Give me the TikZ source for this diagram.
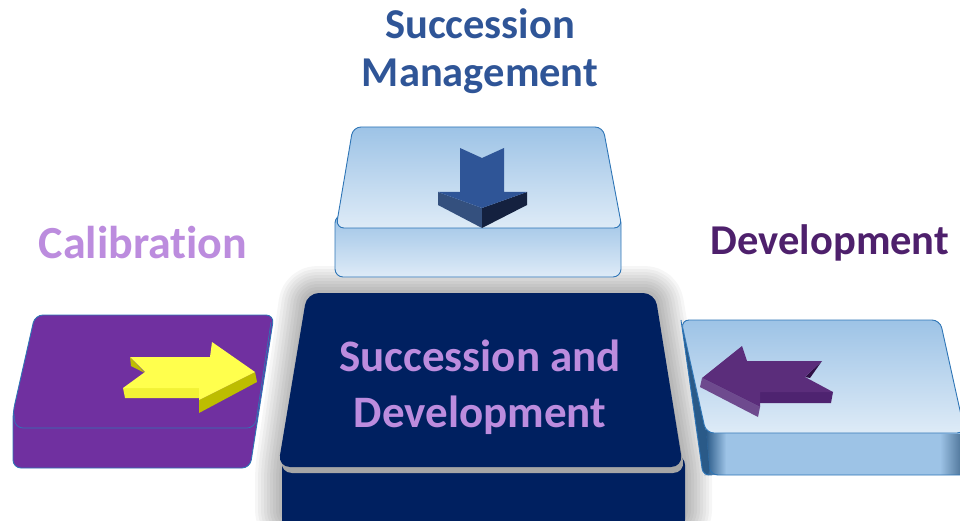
\documentclass[tikz,border=0pt]{standalone}
\usepackage{fontspec}
\setmainfont{Carlito}[Ligatures=NoCommon]
\definecolor{navy}{HTML}{002060}
\definecolor{pbox}{HTML}{7030A0}
\definecolor{lbA}{HTML}{9DC3E6}
\definecolor{lbB}{HTML}{DEEBF7}
\definecolor{lbEdge}{HTML}{2E75B6}
\definecolor{lbDark}{HTML}{2A5A88}
\definecolor{lav}{RGB}{188,140,222}
\definecolor{devtxt}{RGB}{78,32,108}
\definecolor{toptxt}{RGB}{47,85,151}
\definecolor{yelA}{HTML}{FFFF4D}
\definecolor{yelB}{HTML}{F2F236}
\definecolor{yelC}{HTML}{BDBD00}
\definecolor{purA}{HTML}{5B2D7B}
\definecolor{purB}{HTML}{4E2370}
\definecolor{purC}{HTML}{6E4A8E}
\definecolor{purD}{HTML}{2E1045}
\definecolor{bluA}{HTML}{2F5597}
\definecolor{bluB}{HTML}{34507E}
\definecolor{bluC}{HTML}{14213F}
\tikzset{
  lbl/.style={font=\bfseries\fontsize{44}{55}\selectfont, align=center, inner sep=0pt},
  edgeline/.style={draw=lbEdge, line width=0.9pt},
}
\begin{document}
\begin{tikzpicture}[x=1pt,y=-1pt]
\useasboundingbox (0,0) rectangle (960,521);
\begin{scope}
\clip (0,0) rectangle (960,521);
% glow around the central block
\foreach \w in {54,48,42,36,30,24,18,12,6}
  \draw[line width=\w pt, black, opacity=0.035, line join=round, rounded corners=10pt]
    (307,293) -- (655,293) -- (685,470) -- (685,521) -- (282,521) -- (282,470) -- cycle;
% central block
\fill[navy, rounded corners=10pt] (282,455) rectangle (685,530);
\fill[black!35, rounded corners=12pt] (307,298) -- (655,298) -- (685,473) -- (280,473) -- cycle;
\fill[navy, rounded corners=12pt] (307,293) -- (655,293) -- (683,467) -- (278,467) -- cycle;
\node[lbl, text=lav, font=\bfseries\fontsize{45}{56}\selectfont] (centre) at (480,387) {Succession and\\Development};

% top block
\shade[top color=lbA, bottom color=lbB, rounded corners=8pt, edgeline] (335,215) rectangle (621,277);
\shade[top color=lbA, bottom color=lbB, rounded corners=8pt, edgeline] (353,127) -- (603,127) -- (622,228) -- (336,228) -- cycle;
\fill[bluB] (438,192) -- (438,205) -- (482,228) -- (482,208) -- cycle;
\fill[bluC] (527,192) -- (527,205) -- (482,228) -- (482,208) -- cycle;
\fill[bluA] (460,148) -- (482,158) -- (504,148) -- (504,192) -- (527,192) -- (482,208) -- (438,192) -- (460,192) -- cycle;

% left block
\fill[pbox, rounded corners=8pt, edgeline] (35,315) -- (274,315) -- (250,468) -- (13,468) -- (13,412) -- cycle;
\draw[lbEdge, line width=0.7pt, rounded corners=8pt] (14,414) -- (15,428) -- (255,428) -- (271,322);
\fill[yelC] (255,372) -- (257,382) -- (199,413) -- (199,400) -- cycle;
\fill[yelC] (130,357) -- (131,366) -- (145,373) -- cycle;
\fill[yelB] (123,388) -- (125,398) -- (199,398) -- (199,388) -- cycle;
\fill[yelA] (130,357) -- (210,357) -- (212,342) -- (255,372) -- (199,400) -- (199,388) -- (123,388) -- (145,372) -- cycle;

% right block
\fill[lbA, rounded corners=8pt] (704,425) rectangle (990,475);
\shade[left color=lbDark, right color=lbA] (706,430) rectangle (726,474);
\shade[left color=lbA, right color=lbDark!80] (940,434) rectangle (960,474);
\draw[lbEdge, line width=0.9pt, rounded corners=8pt] (706,436) -- (710,475) -- (990,475);
\fill[lbDark, rounded corners=6pt] (681,320) -- (706,430) -- (710,475) -- (703,475) -- cycle;
\draw[lbEdge, line width=0.9pt, rounded corners=6pt] (681,320) -- (703,475) -- (712,475);
\shade[top color=lbA, bottom color=lbB, rounded corners=8pt, edgeline] (681,320) -- (940,320) -- (965,433) -- (706,433) -- cycle;
\fill[purC] (702,378) -- (700,387) -- (758,417) -- (760,407) -- cycle;
\fill[purB] (760,392) -- (833,392) -- (831,403) -- (758,403) -- cycle;
\fill[purD] (822,361) -- (805,377) -- (810,378) -- cycle;
\fill[purA] (702,378) -- (742,346) -- (747,361) -- (822,361) -- (805,377) -- (833,392) -- (760,392) -- (760,407) -- cycle;
\end{scope}

% labels
\node[lbl, text=toptxt, font=\bfseries\fontsize{42.5}{48}\selectfont] (topl) at (480,51) {Succession\\Management};
\node[lbl, text=lav, font=\bfseries\fontsize{46}{55}\selectfont] (calib) at (143,243) {Calibration};
\node[lbl, text=devtxt, font=\bfseries\fontsize{42.5}{55}\selectfont] (devl) at (830,243) {Development};
\end{tikzpicture}
\end{document}
